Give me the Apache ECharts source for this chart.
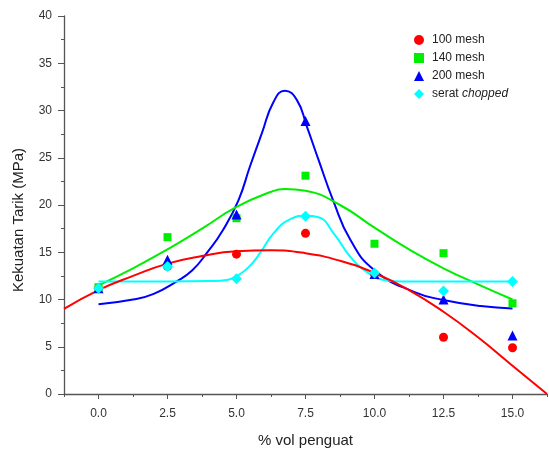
<!DOCTYPE html>
<html>
<head>
<meta charset="utf-8">
<script src="https://cdn.jsdelivr.net/npm/echarts@6/dist/echarts.min.js"></script>
<style>
  html, body { margin: 0; padding: 0; background: #fff; }
  #chart { width: 549px; height: 450px; }
</style>
</head>
<body>
<div id="chart"></div>
<script>
// measured points (x = % vol penguat)
const xValues = [0, 2.5, 5, 7.5, 10, 12.5, 15];
const mesh100 = [11.2, 13.5, 14.8, 17.0, 12.7, 6.0, 4.9];
const mesh140 = [11.3, 16.6, 18.6, 23.1, 15.9, 14.9, 9.6];
const mesh200 = [11.2, 14.2, 19.0, 28.9, 12.7, 10.0, 6.2];
const chopped = [11.2, 13.5, 12.2, 18.8, 12.8, 10.9, 11.9];

// fitted curves as [x, y]
const fit100 = [[-1.25, 9.0], [0, 11.0], [1.25, 12.5], [2.5, 13.8], [3.75, 14.6], [5, 15.1], [6.25, 15.2], [7.5, 14.9], [8.75, 14.1], [10, 12.8], [11.25, 11.0], [12.5, 8.7], [13.75, 6.0], [15, 3.0], [16.25, 0]];
const fit140 = [[0, 11.5], [1.25, 13.3], [2.5, 15.3], [3.75, 17.5], [5, 19.8], [6.25, 21.4], [6.75, 21.7], [7.5, 21.5], [8.75, 20.0], [10, 17.6], [11.25, 15.3], [12.5, 13.3], [13.75, 11.6], [15, 10.0]];
const fit200 = [[0, 9.5], [1.25, 10.0], [2.0, 10.6], [2.82, 11.9], [3.4, 13.1], [3.92, 14.9], [4.5, 17.3], [5.07, 20.5], [5.49, 24.1], [5.92, 27.6], [6.34, 30.9], [6.75, 32.1], [7.19, 31.1], [7.55, 28.3], [7.97, 24.8], [8.5, 20.5], [9.13, 16.3], [10, 13.1], [11.43, 10.8], [12.5, 9.95], [13.85, 9.3], [15, 9.05]];
const fitChopped = [[0, 11.9], [2.5, 11.9], [4, 11.95], [4.7, 12.1], [5.13, 12.7], [5.5, 13.6], [5.85, 14.9], [6.34, 17.0], [6.95, 18.5], [7.5, 18.85], [7.97, 18.7], [8.52, 17.0], [9.13, 14.5], [9.73, 12.9], [10.3, 12.1], [11, 11.9], [15, 11.9]];

const xMajor = [0, 2.5, 5, 7.5, 10, 12.5, 15];
const xMinor = [-1.25, 1.25, 3.75, 6.25, 8.75, 11.25, 13.75, 16.25];

const font = 'Liberation Sans, Arial, sans-serif';
const axisColor = '#555';

const pairs = ys => xValues.map((x, i) => [x, ys[i]]);

const curve = (data, color) => ({
    type: 'line',
    data: data,
    smooth: 0.5,
    showSymbol: false,
    silent: true,
    lineStyle: { color: color, width: 2 },
    z: 2
});

const points = (name, ys, color, symbol, size) => ({
    name: name,
    type: 'scatter',
    data: pairs(ys),
    symbol: symbol,
    symbolSize: size,
    itemStyle: { color: color, opacity: 1 },
    z: 3
});

const chart = echarts.init(document.getElementById('chart'));
chart.setOption({
    animation: false,
    textStyle: { fontFamily: font },
    grid: { left: 64, right: 2, top: 16, bottom: 56, outerBoundsMode: 'none' },
    legend: {
        orient: 'vertical',
        left: 409,
        top: 29,
        itemWidth: 10,
        itemHeight: 10,
        itemGap: 6,
        data: ['100 mesh', '140 mesh', '200 mesh', 'serat chopped'],
        formatter: name => name === 'serat chopped' ? 'serat {i|chopped}' : name,
        textStyle: {
            fontSize: 12, color: '#222', padding: [0, 0, 0, 3],
            rich: { i: { fontStyle: 'italic', fontSize: 12, color: '#222' } }
        }
    },
    xAxis: [
        {
            type: 'value',
            min: -1.25,
            max: 16.25,
            name: '% vol penguat',
            nameLocation: 'middle',
            nameGap: 39,
            nameTextStyle: { fontSize: 15, color: '#222' },
            splitLine: { show: false },
            axisLine: { onZero: false, lineStyle: { color: axisColor, width: 1.3 } },
            axisTick: { customValues: xMajor, length: 5, lineStyle: { color: axisColor } },
            axisLabel: {
                customValues: xMajor, margin: 14, fontSize: 12, color: '#333',
                formatter: v => v.toFixed(1)
            }
        },
        {
            type: 'value',
            position: 'bottom',
            min: -1.25,
            max: 16.25,
            splitLine: { show: false },
            axisLine: { show: false, onZero: false },
            axisTick: { customValues: xMinor, length: 3, lineStyle: { color: axisColor } },
            axisLabel: { show: false }
        }
    ],
    yAxis: {
        type: 'value',
        min: 0,
        max: 40,
        interval: 5,
        name: 'Kekuatan Tarik (MPa)',
        nameLocation: 'middle',
        nameGap: 38,
        nameTextStyle: { fontSize: 15, color: '#222', padding: [0, 30, 0, 0] },
        splitLine: { show: false },
        axisLine: { show: true, onZero: false, lineStyle: { color: axisColor, width: 1.3 } },
        axisTick: { show: true, length: 6, lineStyle: { color: axisColor } },
        minorTick: { show: true, splitNumber: 2, length: 3, lineStyle: { color: axisColor } },
        axisLabel: { margin: 12, fontSize: 12, color: '#333' }
    },
    series: [
        curve(fit200, '#0000ff'),
        curve(fit140, '#00ee00'),
        curve(fitChopped, '#00ffff'),
        curve(fit100, '#ff0000'),
        points('100 mesh', mesh100, '#ff0000', 'circle', 9),
        points('140 mesh', mesh140, '#00ee00', 'rect', 8),
        points('200 mesh', mesh200, '#0000ff', 'triangle', 10),
        points('serat chopped', chopped, '#00ffff', 'diamond', 11)
    ]
});
</script>
</body>
</html>
